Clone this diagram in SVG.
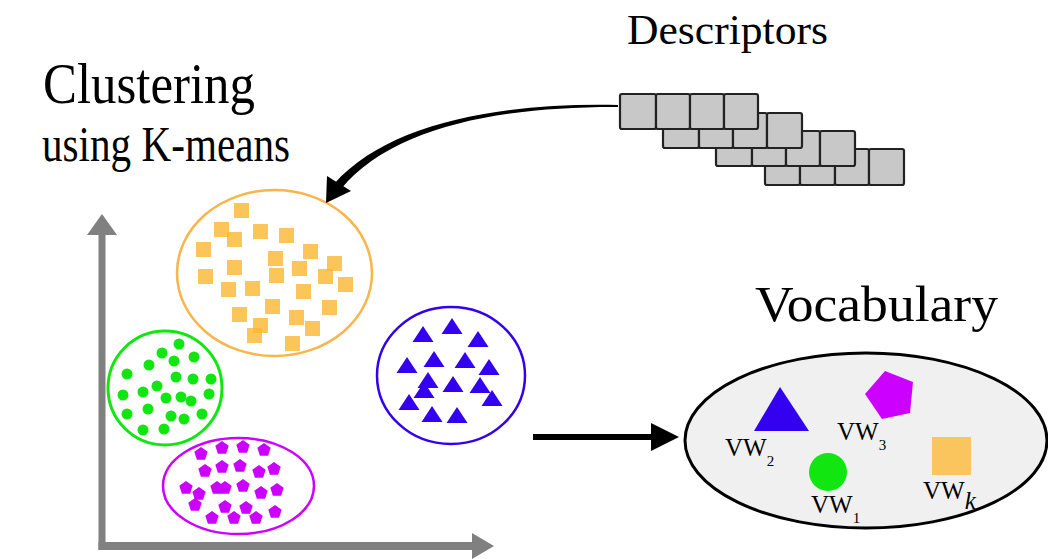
<svg xmlns="http://www.w3.org/2000/svg" xmlns:xlink="http://www.w3.org/1999/xlink" width="1048" height="559" viewBox="0 0 1048 559">
<style>
.t{font-family:"Liberation Serif","Times New Roman",serif;fill:#000}
.vw{font-family:"Liberation Serif","Times New Roman",serif;fill:#000;font-size:25px}
.sub{font-size:15px}
.cell{fill:#c8c8c8;stroke:#222;stroke-width:2.2}
.sq{fill:#fbb731;fill-opacity:0.8}
.dot{fill:#11e611}
.pen{fill:#cc00ff}
.tri{fill:#3300f0}
.axis{fill:#808080}
</style>
<defs>
<rect id="sq" width="15" height="15"/>
<polygon id="pent" points="0,-7 6.7,-2.2 4.1,5.7 -4.1,5.7 -6.7,-2.2"/>
<polygon id="tri" points="0,0 10.5,16 -10.5,16"/>
</defs>
<rect width="1048" height="559" fill="#fff"/>

<g id="titles">
<text class="t" x="627" y="44" font-size="42" textLength="201" lengthAdjust="spacingAndGlyphs">Descriptors</text>
<text class="t" x="43" y="103" font-size="57" textLength="212" lengthAdjust="spacingAndGlyphs">Clustering</text>
<text class="t" x="42" y="161" font-size="50" textLength="248" lengthAdjust="spacingAndGlyphs">using K-means</text>
<text class="t" x="755" y="321" font-size="50" textLength="243" lengthAdjust="spacingAndGlyphs">Vocabulary</text>
</g>

<g id="descriptors">
<g transform="translate(765,149)">
<rect class="cell" x="0" y="0" width="35" height="36" rx="2"/><rect class="cell" x="35" y="0" width="35" height="36" rx="2"/><rect class="cell" x="70" y="0" width="34" height="36" rx="2"/><rect class="cell" x="104" y="0" width="35" height="36" rx="2"/>
</g>
<g transform="translate(716,131)">
<rect class="cell" x="0" y="0" width="36" height="35" rx="2"/><rect class="cell" x="36" y="0" width="34" height="35" rx="2"/><rect class="cell" x="70" y="0" width="34" height="35" rx="2"/><rect class="cell" x="104" y="0" width="35" height="35" rx="2"/>
</g>
<g transform="translate(663,113)">
<rect class="cell" x="0" y="0" width="36" height="35" rx="2"/><rect class="cell" x="36" y="0" width="34" height="35" rx="2"/><rect class="cell" x="70" y="0" width="34" height="35" rx="2"/><rect class="cell" x="104" y="0" width="35" height="35" rx="2"/>
</g>
<g transform="translate(620,94)">
<rect class="cell" x="0" y="0" width="36" height="35" rx="2"/><rect class="cell" x="36" y="0" width="34" height="35" rx="2"/><rect class="cell" x="70" y="0" width="34" height="35" rx="2"/><rect class="cell" x="104" y="0" width="34" height="35" rx="2"/>
</g>
</g>

<g id="axes">
<rect class="axis" x="98.5" y="233" width="7" height="317"/>
<polygon class="axis" points="102,214 87,235 117,235"/>
<rect class="axis" x="98.5" y="542" width="375" height="8"/>
<polygon class="axis" points="472,533 494,546 472,559"/>
</g>

<g id="cluster-orange">
<ellipse cx="274.5" cy="273" rx="97.5" ry="83" fill="none" stroke="#f9b54a" stroke-width="2.5"/>
<g class="sq">
<use xlink:href="#sq" x="234" y="203"/><use xlink:href="#sq" x="214" y="222"/><use xlink:href="#sq" x="227" y="232"/><use xlink:href="#sq" x="253" y="224"/><use xlink:href="#sq" x="279" y="228"/><use xlink:href="#sq" x="196" y="242"/><use xlink:href="#sq" x="303" y="244"/><use xlink:href="#sq" x="268" y="251"/><use xlink:href="#sq" x="227" y="260"/><use xlink:href="#sq" x="292" y="261"/><use xlink:href="#sq" x="327" y="256"/><use xlink:href="#sq" x="318" y="269"/><use xlink:href="#sq" x="198" y="269"/><use xlink:href="#sq" x="269" y="268"/><use xlink:href="#sq" x="338" y="277"/><use xlink:href="#sq" x="221" y="282"/><use xlink:href="#sq" x="245" y="281"/><use xlink:href="#sq" x="296" y="284"/><use xlink:href="#sq" x="322" y="300"/><use xlink:href="#sq" x="232" y="307"/><use xlink:href="#sq" x="265" y="299"/><use xlink:href="#sq" x="289" y="310"/><use xlink:href="#sq" x="253" y="318"/><use xlink:href="#sq" x="305" y="321"/><use xlink:href="#sq" x="247" y="328"/><use xlink:href="#sq" x="285" y="336"/>
</g>
</g>

<g id="cluster-green">
<circle cx="165" cy="388" r="57" fill="none" stroke="#11e611" stroke-width="3"/>
<g class="dot">
<circle cx="179" cy="344" r="5.5"/><circle cx="162" cy="353" r="5.5"/><circle cx="194" cy="357" r="5.5"/><circle cx="174" cy="361" r="5.5"/><circle cx="149" cy="365" r="5.5"/><circle cx="127" cy="374" r="5.5"/><circle cx="176" cy="377" r="5.5"/><circle cx="193" cy="379" r="5.5"/><circle cx="211" cy="379" r="5.5"/><circle cx="157" cy="386" r="5.5"/><circle cx="143" cy="392" r="5.5"/><circle cx="123" cy="395" r="5.5"/><circle cx="209" cy="394" r="5.5"/><circle cx="166" cy="398" r="5.5"/><circle cx="181" cy="397" r="5.5"/><circle cx="191" cy="401" r="5.5"/><circle cx="148" cy="409" r="5.5"/><circle cx="127" cy="414" r="5.5"/><circle cx="171" cy="416" r="5.5"/><circle cx="184" cy="419" r="5.5"/><circle cx="202" cy="414" r="5.5"/><circle cx="143" cy="430" r="5.5"/><circle cx="164" cy="429" r="5.5"/>
</g>
</g>

<g id="cluster-purple">
<ellipse cx="238.5" cy="486" rx="75.5" ry="48" fill="none" stroke="#cc00ff" stroke-width="2.5"/>
<g class="pen">
<use xlink:href="#pent" x="201" y="454"/><use xlink:href="#pent" x="222" y="448"/><use xlink:href="#pent" x="243" y="447"/><use xlink:href="#pent" x="264" y="450"/><use xlink:href="#pent" x="205" y="471"/><use xlink:href="#pent" x="222" y="467"/><use xlink:href="#pent" x="240" y="466"/><use xlink:href="#pent" x="259" y="472"/><use xlink:href="#pent" x="274" y="469"/><use xlink:href="#pent" x="186" y="488"/><use xlink:href="#pent" x="199" y="494"/><use xlink:href="#pent" x="217" y="488"/><use xlink:href="#pent" x="225" y="488"/><use xlink:href="#pent" x="243" y="486"/><use xlink:href="#pent" x="261" y="493"/><use xlink:href="#pent" x="277" y="490"/><use xlink:href="#pent" x="195" y="505"/><use xlink:href="#pent" x="225" y="507"/><use xlink:href="#pent" x="246" y="508"/><use xlink:href="#pent" x="275" y="512"/><use xlink:href="#pent" x="212" y="518"/><use xlink:href="#pent" x="234" y="518"/><use xlink:href="#pent" x="256" y="518"/>
</g>
</g>

<g id="cluster-blue">
<ellipse cx="451" cy="375.5" rx="74" ry="68.5" fill="none" stroke="#3300ee" stroke-width="2.5"/>
<g class="tri">
<use xlink:href="#tri" x="423" y="326"/><use xlink:href="#tri" x="452" y="318"/><use xlink:href="#tri" x="478" y="331"/><use xlink:href="#tri" x="407" y="357"/><use xlink:href="#tri" x="434" y="351"/><use xlink:href="#tri" x="465" y="352"/><use xlink:href="#tri" x="489" y="359"/><use xlink:href="#tri" x="428" y="372"/><use xlink:href="#tri" x="453" y="376"/><use xlink:href="#tri" x="480" y="377"/><use xlink:href="#tri" x="424" y="382"/><use xlink:href="#tri" x="492" y="390"/><use xlink:href="#tri" x="409" y="394"/><use xlink:href="#tri" x="432" y="406"/><use xlink:href="#tri" x="457" y="407"/>
</g>
</g>

<g id="vocabulary">
<ellipse cx="866" cy="440.5" rx="181" ry="87.5" fill="#f0f0f0" stroke="#000" stroke-width="3"/>
<polygon points="780,387 809,431 754,431" fill="#3300f0"/>
<text class="vw" x="725" y="456">VW<tspan class="sub" dy="10">2</tspan></text>
<polygon points="885,371 913,382 910,413 882,419 865,394" fill="#cc00ff"/>
<text class="vw" x="837" y="440">VW<tspan class="sub" dy="10">3</tspan></text>
<circle cx="828" cy="472" r="19" fill="#11e611"/>
<text class="vw" x="811" y="513">VW<tspan class="sub" dy="10">1</tspan></text>
<rect x="932" y="437" width="39" height="38" fill="#f9c55c"/>
<text class="vw" x="923" y="499">VW<tspan dy="10" font-size="25" font-style="italic">k</tspan></text>
</g>

<g id="connectors">
<path d="M618,105 C500,102.5 388,123 334,184 L341,189 C392,127 500,106.5 618,107 Z" fill="#000"/>
<polygon points="326,203 327,176 351,191" fill="#000"/>
<rect x="533" y="434" width="120" height="6" fill="#000"/>
<polygon points="651,423 679,437 651,451" fill="#000"/>
</g>
</svg>
